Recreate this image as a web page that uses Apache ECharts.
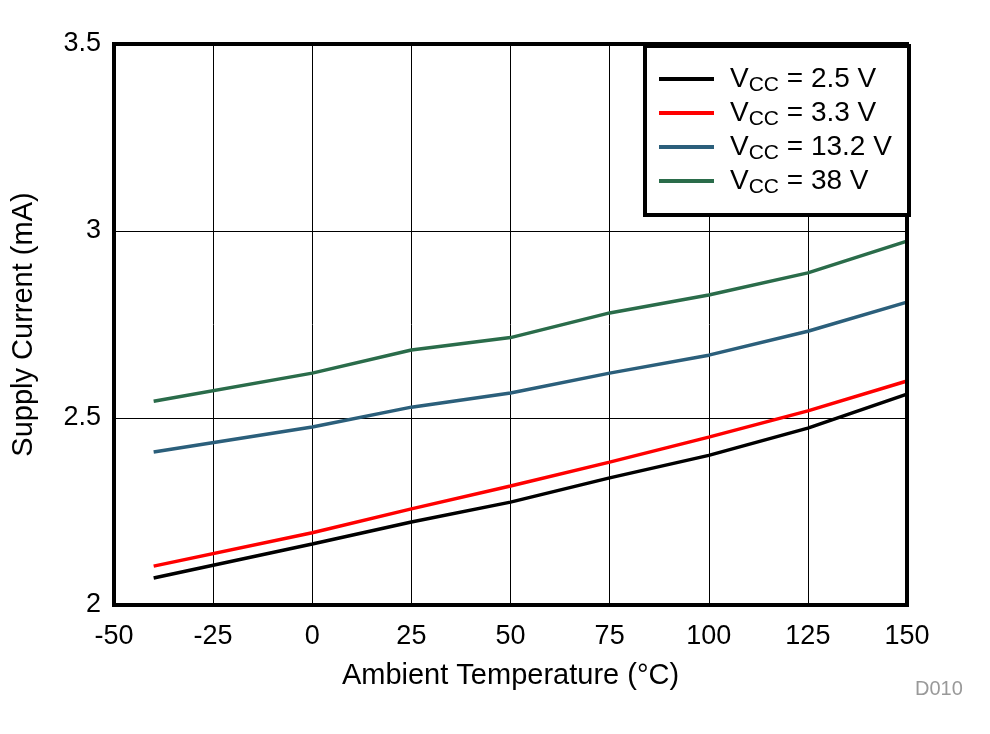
<!DOCTYPE html>
<html>
<head>
<meta charset="utf-8">
<script src="https://cdn.jsdelivr.net/npm/echarts@6/dist/echarts.min.js"></script>
<style>
html,body{margin:0;padding:0;background:#fff;}
#chart{width:990px;height:734px;}
</style>
</head>
<body>
<div id="chart"></div>
<script>
const temps = [-40, 0, 25, 50, 75, 100, 125, 150];
const vcc25 = [2.072, 2.163, 2.222, 2.275, 2.340, 2.400, 2.473, 2.564];
const vcc33 = [2.104, 2.193, 2.257, 2.318, 2.382, 2.449, 2.519, 2.599];
const vcc132 = [2.409, 2.476, 2.529, 2.567, 2.620, 2.668, 2.732, 2.810];
const vcc38 = [2.545, 2.620, 2.682, 2.715, 2.781, 2.829, 2.888, 2.973];
const seriesNames = ['VCC = 2.5 V', 'VCC = 3.3 V', 'VCC = 13.2 V', 'VCC = 38 V'];
const legendTexts = ['2.5 V', '3.3 V', '13.2 V', '38 V'];
const colors = ['#000000', '#ff0000', '#2b5f7b', '#2a6c4a'];
const allData = [vcc25, vcc33, vcc132, vcc38];

const font = '"Liberation Sans", Arial, sans-serif';
const chart = echarts.init(document.getElementById('chart'));
const series = allData.map((vals, i) => ({
  name: seriesNames[i],
  type: 'line',
  data: temps.map((t, j) => [t, vals[j]]),
  showSymbol: false,
  symbol: 'none',
  lineStyle: { color: colors[i], width: 3.5 },
  itemStyle: { color: colors[i] },
  z: 3
}));

chart.setOption({
  animation: false,
  backgroundColor: '#fff',
  grid: { left: 114, right: 83, top: 44, bottom: 129, show: true, borderColor: '#000', borderWidth: 4, backgroundColor: 'transparent', z: 5 },
  xAxis: {
    type: 'value', min: -50, max: 150, interval: 25,
    name: 'Ambient Temperature (°C)', nameLocation: 'middle', nameGap: 56,
    nameTextStyle: { fontFamily: font, fontSize: 29, color: '#000' },
    axisLine: { show: false }, axisTick: { show: false },
    axisLabel: { fontFamily: font, fontSize: 27, color: '#000', margin: 18 },
    splitLine: { show: true, lineStyle: { color: '#000', width: 1 } }
  },
  yAxis: {
    type: 'value', min: 2, max: 3.5, interval: 0.5,
    name: 'Supply Current (mA)', nameLocation: 'middle', nameGap: 76,
    nameTextStyle: { fontFamily: font, fontSize: 29, color: '#000' },
    axisLine: { show: false }, axisTick: { show: false },
    axisLabel: { fontFamily: font, fontSize: 27, color: '#000', margin: 13 },
    splitLine: { show: true, lineStyle: { color: '#000', width: 1 } }
  },
  legend: {
    orient: 'vertical', left: 659, top: 65, padding: 0,
    itemWidth: 55, itemHeight: 4, itemGap: 3,
    icon: 'rect',
    data: seriesNames,
    formatter: function (name) {
      const i = seriesNames.indexOf(name);
      return '{a|V}{b|CC}{a| = ' + legendTexts[i] + '}';
    },
    textStyle: {
      fontFamily: font, color: '#000', padding: [0, 0, 0, 11],
      rich: {
        a: { fontFamily: font, fontSize: 28, lineHeight: 34, color: '#000' },
        b: { fontFamily: font, fontSize: 21, lineHeight: 16, verticalAlign: 'bottom', color: '#000' }
      }
    },
    z: 10
  },
  graphic: [
    { type: 'rect', left: 643, top: 44, z: 8, shape: { width: 264, height: 169 }, style: { fill: '#fff', stroke: '#000', lineWidth: 4 } },
    { type: 'text', left: 915, top: 679, z: 10, style: { text: 'D010', fontFamily: font, fontSize: 20, fill: '#999999' } }
  ],
  series: series
});
</script>
</body>
</html>
